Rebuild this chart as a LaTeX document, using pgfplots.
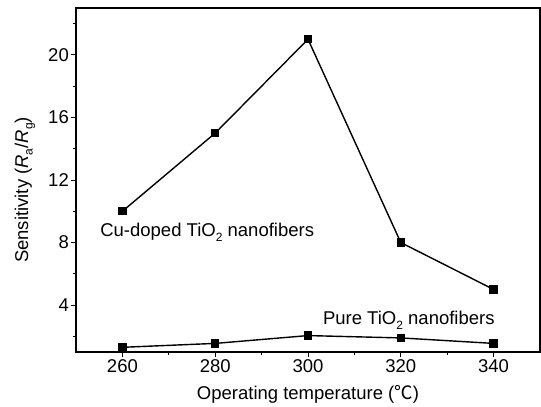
\documentclass[border=0pt]{standalone}
\usepackage{pgfplots}
\pgfplotsset{compat=1.18}
\usepackage{fontspec}
\setmainfont{Liberation Sans}
\newfontfamily\cjk{Noto Sans CJK SC}
\newcommand\sub[1]{\raisebox{-4.5bp}{\fontsize{12bp}{14bp}\selectfont #1}}
\begin{document}
\begin{tikzpicture}[font=\fontsize{18.5bp}{22bp}\selectfont]
\begin{axis}[
  scale only axis,
  width=464bp, height=344bp,
  xmin=250, xmax=350, ymin=1, ymax=23,
  xtick={260,280,300,320,340},
  ytick={4,8,12,16,20},
  minor xtick={270,290,310,330},
  minor ytick={2,6,10,14,18,22},
  tick pos=left,
  tick align=outside,
  major tick length=5bp,
  minor tick length=3bp,
  every tick/.style={black, line width=1bp},
  axis line style={line width=1.3bp},
  /pgf/number format/assume math mode=true,
  /pgf/number format/1000 sep={},
  xticklabel style={font=\fontsize{18.5bp}{22bp}\selectfont, inner sep=2bp},
  yticklabel style={font=\fontsize{18.5bp}{22bp}\selectfont, inner sep=2bp},
  xlabel={Operating temperature ({\cjk ℃})},
  ylabel={Sensitivity (\textit{R}\sub{a}/\textit{R}\sub{g})},
  xlabel style={at={(axis description cs:0.5,-0.1395)}, anchor=base, font=\fontsize{18.5bp}{22bp}\selectfont},
  ylabel style={at={(axis description cs:-0.110,0.471)}, anchor=center, font=\fontsize{18.5bp}{22bp}\selectfont},
  clip=false,
]
\coordinate (sw) at (rel axis cs:0,0);
\coordinate (ne) at (rel axis cs:1,1);
\addplot[black, line width=1.4bp, mark=square*, mark size=3.5bp] coordinates {
  (260,10) (280,15) (300,21) (320,8) (340,5)
};
\addplot[black, line width=1.4bp, mark=square*, mark size=3.5bp] coordinates {
  (260,1.3) (280,1.55) (300,2.05) (320,1.9) (340,1.55)
};
\node[anchor=base west, inner sep=0pt] at (axis cs:255.2,8.36) {Cu-doped TiO\sub{2} nanofibers};
\node[anchor=base west, inner sep=0pt] at (axis cs:303.2,2.73) {Pure TiO\sub{2} nanofibers};
\end{axis}
\pgfresetboundingbox
\path[use as bounding box] ([xshift=-76bp,yshift=-55bp]sw) rectangle ([xshift=1bp,yshift=8bp]ne);
\end{tikzpicture}
\end{document}
